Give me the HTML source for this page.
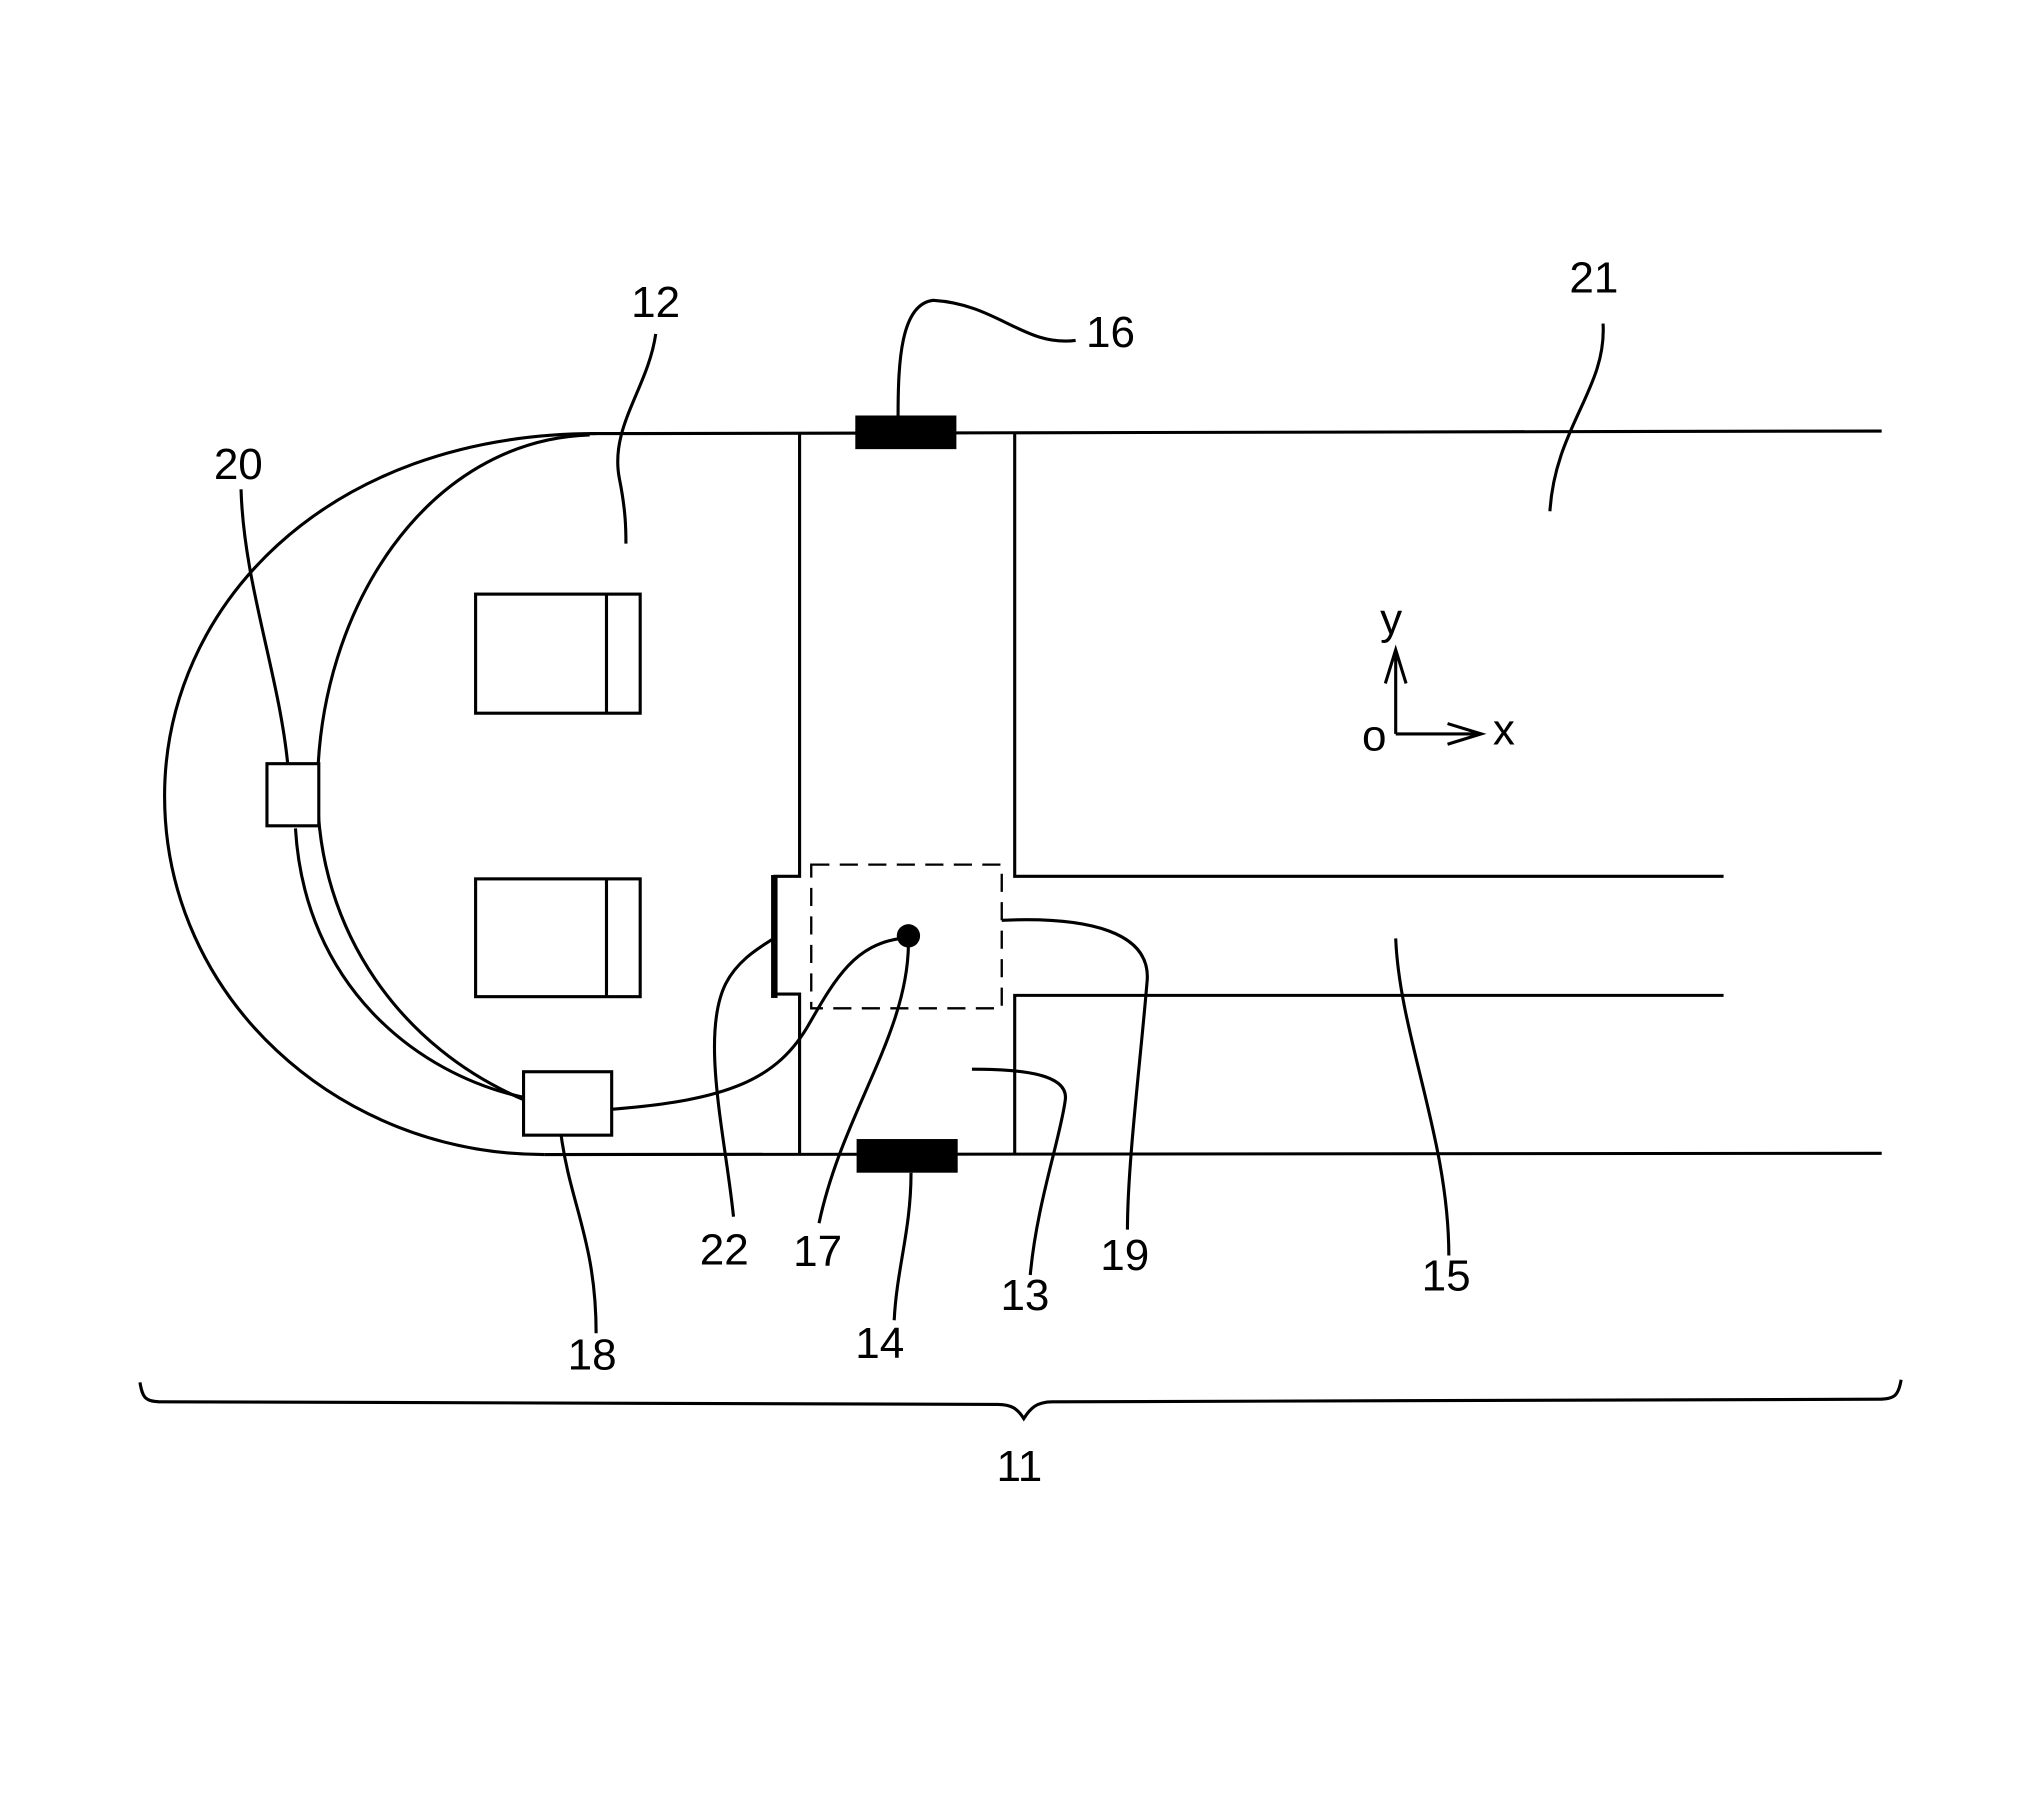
<!DOCTYPE html>
<html><head><meta charset="utf-8"><style>
html,body{margin:0;padding:0;background:#fff;}
svg{display:block;}
text{font-family:"Liberation Sans",sans-serif;font-size:34px;fill:#000;}
</style></head><body>
<svg width="2032" height="1816" viewBox="0 0 1568 1403" preserveAspectRatio="none" xmlns="http://www.w3.org/2000/svg">
<g fill="none" stroke="#000" stroke-width="2.4">
<path d="M455,335 L1452,333"/>
<path d="M420,892 L1452,891"/>
<path d="M460,335 C250,335 127,470 127,615 C127,770 260,892 420,892"/>
<path d="M455,336 C330,340 245,470 245,610 C245,720 310,810 405,850"/>
<path d="M228,640 C235,760 320,830 405,848"/>
<path d="M617,335 L617,677 L597,677"/>
<path d="M597,768 L617,768 L617,892"/>
<path d="M783,335 L783,677 L1330,677"/>
<path d="M1330,769 L783,769 L783,892"/>
<rect x="626" y="668" width="147" height="111" stroke-dasharray="14,8" stroke-width="1.8"/>
<rect x="367" y="459" width="127" height="92"/>
<line x1="468" y1="459" x2="468" y2="551"/>
<rect x="367" y="679" width="127" height="91"/>
<line x1="468" y1="679" x2="468" y2="770"/>
<rect x="404" y="828" width="68" height="49" fill="#fff"/>
<rect x="206" y="590" width="40" height="48" fill="#fff"/>
<path d="M472,857 C560,850 600,835 625,790 C645,755 660,730 695,725"/>
<path d="M506,258 C500,300 470,330 478,370 C483,395 483,410 483,420"/>
<path d="M830,263 C790,268 770,235 720,232 C695,235 693,280 693,321"/>
<path d="M186,378 C188,450 215,520 222,590"/>
<path d="M1237,250 C1240,300 1200,330 1196,395"/>
<path d="M566,940 C560,880 540,800 560,760 C570,740 590,730 597,725"/>
<path d="M632,945 C650,860 700,800 701,730"/>
<path d="M773,711 C840,708 890,720 885,760 C880,820 870,900 870,950"/>
<path d="M750,826 C790,826 825,830 822,850 C818,880 800,930 795,985"/>
<path d="M703,906 C703,950 692,980 690,1020"/>
<path d="M433,877 C440,930 460,960 460,1030"/>
<path d="M1077,725 C1080,800 1118,880 1118,970"/>
<path d="M1077,567 L1077,502 M1069,528 L1077,502 L1085,528"/>
<path d="M1077,567 L1143,567 M1117,559 L1143,567 L1117,575"/>
<path d="M108,1068 C110,1080 112,1083 125,1083 L770,1085 C780,1085 785,1088 790,1096 C795,1088 800,1083 812,1083 L1450,1081 C1462,1081 1465,1078 1467,1066"/>
</g>
<rect x="595" y="676" width="5" height="95" fill="#000"/>
<rect x="660" y="321" width="78" height="26" fill="#000"/>
<rect x="661" y="880" width="78" height="26" fill="#000"/>
<circle cx="701" cy="723" r="9" fill="#000"/>
<text x="487" y="245">12</text>
<text x="838" y="268">16</text>
<text x="1211" y="226">21</text>
<text x="165" y="370">20</text>
<text x="1065" y="490">y</text>
<text x="1051" y="580">o</text>
<text x="1152" y="575">x</text>
<text x="540" y="977">22</text>
<text x="612" y="978">17</text>
<text x="849" y="981">19</text>
<text x="772" y="1012">13</text>
<text x="1097" y="997">15</text>
<text x="660" y="1049">14</text>
<text x="438" y="1058">18</text>
<text x="769" y="1144">11</text>
</svg>
</body></html>
